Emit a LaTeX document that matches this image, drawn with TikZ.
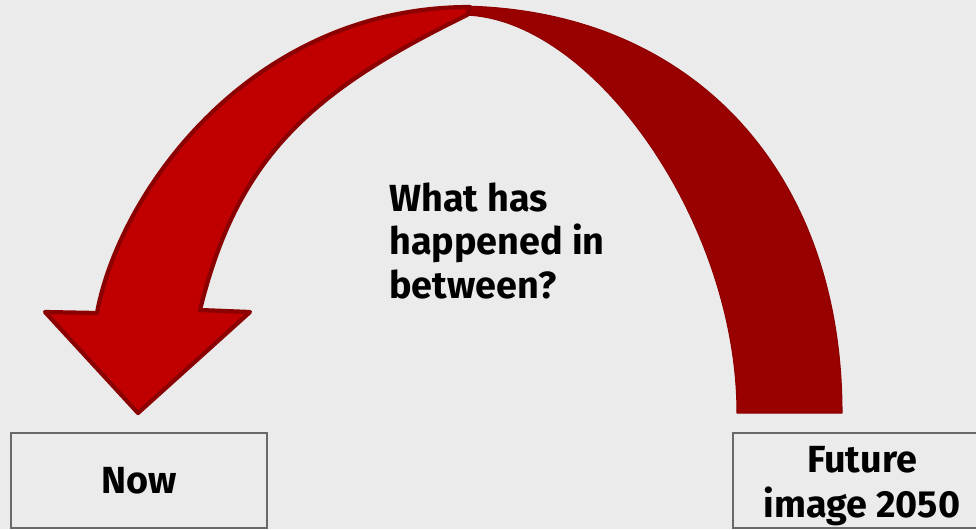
\documentclass[tikz,border=0pt]{standalone}
\usepackage{fontspec}
\setmainfont{Fira Sans}
\usetikzlibrary{positioning}
\definecolor{slidegray}{RGB}{235,235,235}
\definecolor{frontred}{RGB}{192,0,0}
\definecolor{backred}{RGB}{153,0,0}
\definecolor{rimred}{RGB}{139,0,0}
\definecolor{boxgray}{RGB}{105,105,105}

\begin{document}
\begin{tikzpicture}[
    x=0.02cm, y=-0.02cm,
    timebox/.style={rectangle, draw=boxgray, line width=1.1pt, fill=slidegray, minimum height=1.9cm, align=center, font=\fontsize{21.5}{25.6}\selectfont\bfseries},
    question/.style={align=left, inner sep=0pt, font=\fontsize{21.5}{24.5}\selectfont\bfseries},
    frontband/.style={fill=frontred, draw=rimred, line width=2.4pt, line join=round},
    backband/.style={fill=backred, draw=rimred!80!backred, line width=0.6pt, line join=round}
]
\useasboundingbox (0,0) rectangle (976,529);
\fill[slidegray] (0,0) rectangle (976,529);

% ============ boxes ============
\node[timebox, minimum width=5.12cm] (now) at (139,480.5) {Now};
\node[timebox, minimum width=5.16cm, text height=41.6pt, text depth=0pt] (future) at (862,480.5) {Future\\image 2050};

% ============ curved arrow ============
\coordinate (backtop) at (455,6);
\coordinate (backend) at (842,413);
\coordinate (fronttop) at (470,7);
\coordinate (tip) at (138,413);

\path[backband] (backtop) .. controls (690,6) and (842,170) .. (backend)
    -- (737,413) .. controls (737,220) and (590,15) .. (462,15) -- cycle;

\path[frontband] (fronttop) .. controls (250,7) and (119,193) .. (97,313)
    -- (45,312) -- (tip) -- (250,312) -- (200,310)
    .. controls (237,160) and (307,93) .. (467,15) -- cycle;

% ============ question ============
\node[question, anchor=base west] (between) at (389,298) {What has\\happened in\\between?};

\end{tikzpicture}
\end{document}
